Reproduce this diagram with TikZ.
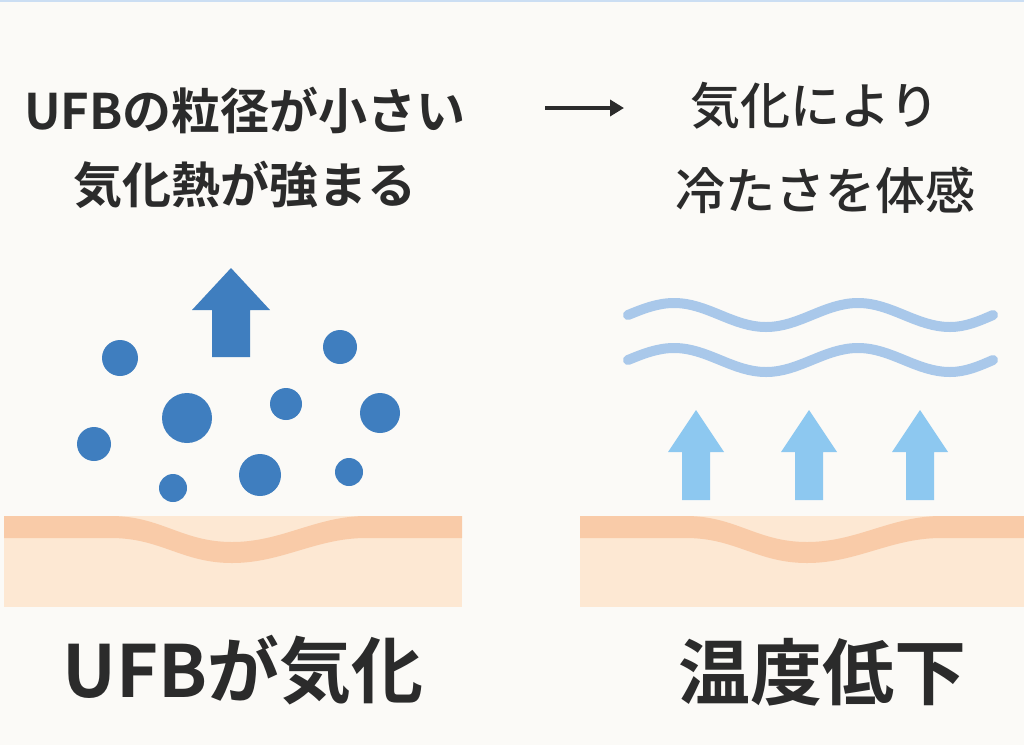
\documentclass[tikz,border=0pt]{standalone}
\usepackage{fontspec}
\usetikzlibrary{arrows.meta}
\newfontfamily\cjk{Noto Sans CJK JP Medium}
\newfontfamily\cjkb{Noto Sans CJK JP Bold}
\definecolor{bgcol}{HTML}{FBFAF7}
\definecolor{dropblue}{HTML}{3F7EBF}
\definecolor{steamblue}{HTML}{8DC8F0}
\definecolor{waveblue}{HTML}{A9C8EA}
\definecolor{skinband}{HTML}{F9CBA8}
\definecolor{skinfill}{HTML}{FDE8D3}
\definecolor{textcol}{HTML}{2B2B2B}
\begin{document}
\begin{tikzpicture}
  [x=1pt,y=-1pt,
   drop/.style={fill=dropblue, draw=none},
   upbox/.style={fill=#1, draw=none},
   wave/.style={draw=waveblue, line width=10pt, line cap=round},
   headline/.style={font=\cjkb\fontsize{49}{54}\selectfont, text=textcol, inner sep=0pt},
   subline/.style={font=\cjk\fontsize{50}{55}\selectfont, text=textcol, inner sep=0pt},
   bigline/.style={font=\cjkb\fontsize{72}{78}\selectfont, text=textcol, inner sep=0pt}]
  \fill[bgcol] (0,0) rectangle (1024,745);
  \useasboundingbox (0,0) rectangle (1024,745);
  \draw[waveblue!60, line width=1.5pt] (0,1) -- (1024,1);

  % texts
  \node[headline] (cause1) at (245,110) {UFBの粒径が小さい};
  \node[headline] (cause2) at (245,185) {気化熱が強まる};
  \node[subline] (effect1) at (815,106) {気化により};
  \node[subline] (effect2) at (825,190) {冷たさを体感};
  \coordinate (arrA) at (545,108);
  \coordinate (arrB) at (624,108);
  \draw[textcol, line width=4pt, -{Triangle[length=14pt,width=16pt]}] (arrA) -- (arrB);
  \node[bigline] (leftname) at (243,670) {UFBが気化};
  \node[bigline] (rightname) at (822,672) {温度低下};

  % skins
  \foreach \xa/\xb/\xs/\xm/\xe in {4/462/111/232/366, 580/1024/686/807/941} {
    \fill[skinfill] (\xa,516) rectangle (\xb,607);
    \fill[skinband] (\xa,516) -- (\xs,516)
      .. controls (\xs+50,516) and (\xm-50,542) .. (\xm,542)
      .. controls (\xm+50,542) and (\xe-50,516) .. (\xe,516) -- (\xb,516)
      -- (\xb,538) -- (\xe,538)
      .. controls (\xe-50,538) and (\xm+50,563) .. (\xm,563)
      .. controls (\xm-50,563) and (\xs+50,538) .. (\xs,538) -- (\xa,538) -- cycle;
  }

  % rising arrow and drops
  \fill[upbox=dropblue] (212,357) -- (212,310) -- (192,310) -- (231,268)
    -- (270,310) -- (250,310) -- (250,357) -- cycle;
  \foreach \cx/\cy/\r in {120/358/18, 340/347/17, 187/418/25, 286/404/16,
    380/413/20, 94/444/17, 260/475/21, 349/472/14, 173/488/14}
    \fill[drop] (\cx,\cy) circle (\r);

  % steam arrows
  \foreach \cx in {696,809,920}
    \fill[upbox=steamblue] (\cx-14,500) -- (\cx-14,452) -- (\cx-28,452) -- (\cx,410)
      -- (\cx+28,452) -- (\cx+14,452) -- (\cx+14,500) -- cycle;

  % waves
  \foreach \wy in {315,360}
    \draw[wave] (628,\wy) sin (674,\wy-12) cos (720,\wy) sin (766,\wy+12) cos (812,\wy)
      sin (858,\wy-12) cos (904,\wy) sin (950,\wy+12) cos (993,\wy);
\end{tikzpicture}
\end{document}
